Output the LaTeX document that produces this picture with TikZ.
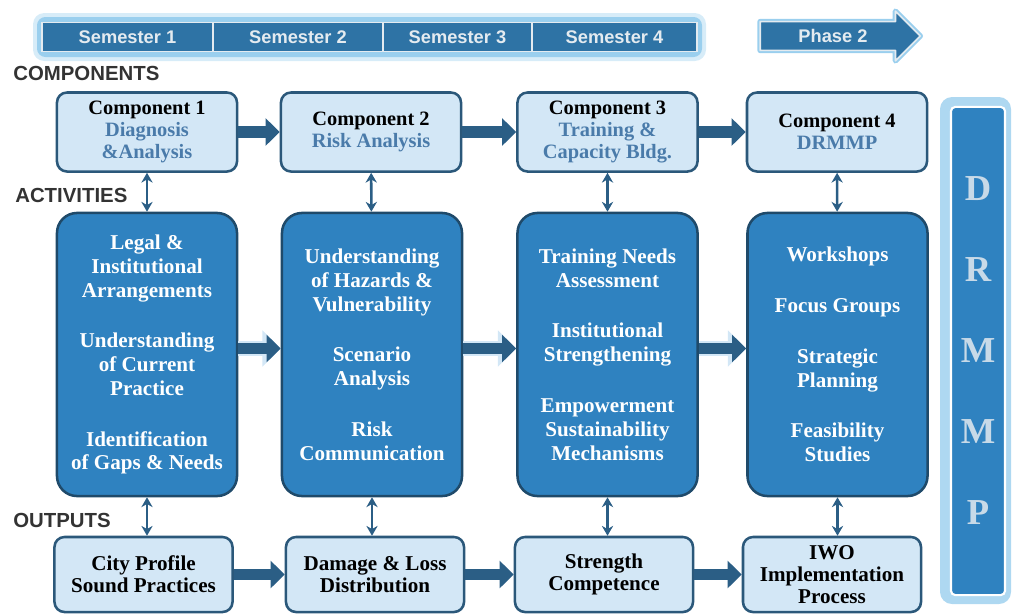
\documentclass[tikz,border=0pt]{standalone}
\usepackage{fontspec}
\setmainfont{Liberation Serif}
\setsansfont{Liberation Sans}
\usetikzlibrary{positioning,shapes.arrows,arrows.meta}

\definecolor{boxline}{HTML}{2B587A}
\definecolor{lightfill}{HTML}{D3E7F6}
\definecolor{actfill}{HTML}{2F82C0}
\definecolor{actline}{HTML}{1F4A6A}
\definecolor{subblue}{HTML}{4A7BAA}
\definecolor{arrowblue}{HTML}{2B5E85}
\definecolor{semfill}{HTML}{2E73A5}
\definecolor{semtext}{HTML}{E4EBF0}
\definecolor{glowblue}{HTML}{9ACFEE}
\definecolor{labelgray}{HTML}{333333}
\definecolor{lettercol}{HTML}{C8DAE8}

\begin{document}
\begin{tikzpicture}[x=0.025cm,y=-0.025cm]
	\useasboundingbox (0,0) rectangle (1012,614);
	% timeline bar
	\fill[glowblue!40,rounded corners=8pt] (33,13) rectangle (706,61);
	\fill[glowblue,rounded corners=6pt] (37,17) rectangle (702,57);
	\begin{scope}[every node/.style={rectangle,draw=semtext,line width=1.2pt,fill=semfill,text=semtext,
	              font=\sffamily\bfseries\fontsize{13}{15}\selectfont,minimum height=0.725cm,inner sep=0pt}]
		\node[minimum width=4.275cm] (S1) at (127.5,37) {Semester 1};
		\node[minimum width=4.25cm] (S2) at (298,37) {Semester 2};
		\node[minimum width=3.725cm] (S3) at (457.5,37) {Semester 3};
		\node[minimum width=4.125cm] (S4) at (614.5,37) {Semester 4};
		\node[single arrow,single arrow head extend=0.26cm,single arrow head indent=0pt,
		      minimum height=4.0cm,inner ysep=0.17cm,line join=round,
		      preaction={draw=glowblue,line width=4pt,line join=round}] (P2) at (833,36) {Phase 2};
	\end{scope}
	\begin{scope}[every node/.style={anchor=west,inner sep=0pt,text=labelgray,font=\sffamily\bfseries\fontsize{14.5}{16}\selectfont}]
		\node (lcomp) at (13,73) {COMPONENTS};
		\node (lact) at (15,195) {ACTIVITIES};
		\node (lout) at (13,520) {OUTPUTS};
	\end{scope}
	% components
	\begin{scope}[every node/.style={rectangle,rounded corners=0.25cm,draw=boxline,line width=1.8pt,fill=lightfill,
	              minimum width=4.5cm,minimum height=1.975cm,align=center,inner sep=2pt,
	              font=\bfseries\fontsize{14.5}{15.5}\selectfont}]
		\node (C1) at (147,132) {Component 1\\\textcolor{subblue}{Diagnosis}\\\textcolor{subblue}{\&Analysis}};
		\node (C2) at (371,132) {Component 2\\\textcolor{subblue}{Risk Analysis}};
		\node (C3) at (607.5,132) {Component 3\\\textcolor{subblue}{Training \&}\\\textcolor{subblue}{Capacity Bldg.}};
		\node (C4) at (837,132) {Component 4\\\textcolor{subblue}{DRMMP}};
	\end{scope}
	% activities
	\begin{scope}[every node/.style={rectangle,rounded corners=0.5cm,draw=actline,line width=1.8pt,fill=actfill,text=white,
	              minimum width=4.5cm,minimum height=7.075cm,align=center,inner sep=2pt,
	              font=\bfseries\fontsize{15}{17}\selectfont}]
		\node (A1) at (147,354.5) {Legal \&\\Institutional\\Arrangements\\[19pt]Understanding\\of Current\\Practice\\[19pt]Identification\\of Gaps \& Needs};
		\node (A2) at (372,354.5) {Understanding\\of Hazards \&\\Vulnerability\\[19pt]Scenario\\Analysis\\[19pt]Risk\\Communication};
		\node (A3) at (607.5,354.5) {Training Needs\\Assessment\\[19pt]Institutional\\Strengthening\\[19pt]Empowerment\\Sustainability\\Mechanisms};
		\node (A4) at (837.5,354.5) {Workshops\\[19pt]Focus Groups\\[19pt]Strategic\\Planning\\[19pt]Feasibility\\Studies};
	\end{scope}
	% outputs
	\begin{scope}[every node/.style={rectangle,rounded corners=0.25cm,draw=boxline,line width=1.8pt,fill=lightfill,
	              minimum width=4.45cm,minimum height=1.875cm,align=center,inner sep=2pt,
	              font=\bfseries\fontsize{15}{15.5}\selectfont}]
		\node (O1) at (143.5,574.5) {City Profile\\Sound Practices};
		\node (O2) at (375,574.5) {Damage \& Loss\\Distribution};
		\node (O3) at (604,574.5) {Strength\\Competence};
		\node (O4) at (832,574.5) {IWO\\Implementation\\Process};
	\end{scope}
	% DRMMP bar
	\fill[glowblue!80,rounded corners=0.3cm] (940,97) rectangle (1011,604);
	\node[rectangle,rounded corners=3pt,draw=white,line width=1.5pt,fill=actfill,text=lettercol,
	      minimum width=1.35cm,minimum height=12.2cm,align=center,inner sep=0pt,
	      font=\bfseries\fontsize{26}{57.6}\selectfont] (DR) at (978,351) {D\\R\\M\\M\\P};
	% connectors
	\begin{scope}[flow/.style={every edge/.style={draw=arrowblue,line width=8pt},-{Triangle[length=10pt,width=19pt]}},
	              rim/.style={every edge/.style={draw=lightfill,line width=11pt},-{Triangle[length=13pt,width=25pt]}}]
		\path [flow] (C1) edge (C2) (C2) edge (C3) (C3) edge (C4);
		\path [rim] ([yshift=0.15cm]A1.east) edge ([yshift=0.15cm]A2.west)
		            ([yshift=0.15cm]A2.east) edge ([yshift=0.15cm]A3.west)
		            ([yshift=0.15cm]A3.east) edge ([yshift=0.15cm]A4.west);
		\path [flow] ([yshift=0.15cm]A1.east) edge ([yshift=0.15cm]A2.west)
		             ([yshift=0.15cm]A2.east) edge ([yshift=0.15cm]A3.west)
		             ([yshift=0.15cm]A3.east) edge ([yshift=0.15cm]A4.west);
		\path [flow] (O1) edge (O2) (O2) edge (O3) (O3) edge (O4);
	\end{scope}
	\begin{scope}[>={Stealth[length=7pt,width=8pt]},
	              every edge/.style={draw=arrowblue,line width=1.8pt}]
		\path [<->] (C1) edge (A1) (C2) edge (A2) (C3) edge (A3) (C4) edge (A4);
		\path [<->] (A1.south) edge (A1.south |- O1.north) (A2.south) edge (A2.south |- O2.north)
		            (A3.south) edge (A3.south |- O3.north) (A4.south) edge (A4.south |- O4.north);
	\end{scope}
\end{tikzpicture}
\end{document}
